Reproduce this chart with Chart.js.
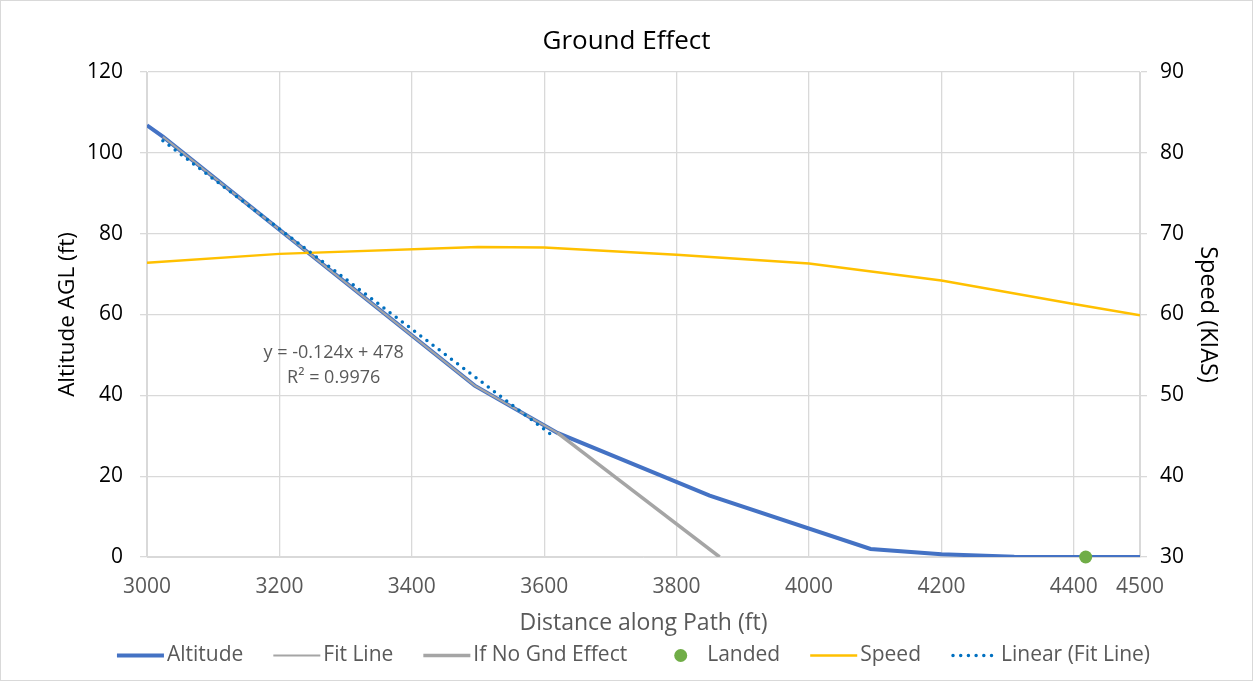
<!DOCTYPE html>
<html>
<head>
<meta charset="utf-8">
<script src="https://cdn.jsdelivr.net/npm/chart.js@4"></script>
<style>
  body { margin: 0; background: #fff; }
  #wrap { width: 1251px; height: 679px; border: 1px solid #d9d9d9; }
</style>
</head>
<body>
<div id="wrap"><canvas id="chart" width="1251" height="679"></canvas></div>
<script>
// values
const altX = [3000, 3024, 3495, 3620, 3850, 4093, 4200, 4310, 4420, 4500];
const altY = [106.8, 104.0, 42.4, 30.7, 15.2, 2.0, 0.7, 0.05, 0, 0];

const fitX = [3024, 3495, 3620];
const fitY = [104.0, 42.4, 30.7];

const noGndX = [3620, 3865];
const noGndY = [30.7, 0];

const landedX = [4418];
const landedY = [0];

const speedX = [3000, 3200, 3500, 3600, 3800, 4000, 4200, 4400, 4500];
const speedY = [66.4, 67.5, 68.35, 68.3, 67.4, 66.3, 64.2, 61.3, 59.9];

const trendX = [3024, 3612];
const trendY = [103.0, 30.1];

const xTicks = [3000, 3200, 3400, 3600, 3800, 4000, 4200, 4400, 4500];
const trendText = ["y = -0.124x + 478", "R\u00b2 = 0.9976"];

const FONT = "'Open Sans', 'Liberation Sans', sans-serif";

function pts(xs, ys) {
  return xs.map((x, i) => ({x: x, y: ys[i]}));
}

// trendline equation label
const eqLabel = {
  id: 'eqLabel',
  afterDatasetsDraw(chart) {
    const ctx = chart.ctx;
    const cx = chart.scales.x.getPixelForValue(3282);
    const cy = chart.scales.y.getPixelForValue(50.6);
    ctx.save();
    ctx.font = "18px " + FONT;
    ctx.fillStyle = "#595959";
    ctx.textAlign = "center";
    ctx.textBaseline = "middle";
    ctx.fillText(trendText[0], cx, cy);
    ctx.fillText(trendText[1], cx, cy + 25);
    ctx.restore();
  }
};

// legend row in the Excel style: sample right next to its text
const legendRow = {
  id: 'legendRow',
  afterDraw(chart) {
    const ctx = chart.ctx;
    const sw = 47, gap = 3, space = 30, y = 654.5;
    ctx.save();
    ctx.font = "21px " + FONT;
    ctx.textBaseline = "middle";
    const items = chart.data.datasets;
    const widths = items.map(ds => ctx.measureText(ds.label).width);
    const total = widths.reduce((a, w) => a + sw + gap + w, 0) + space * (items.length - 1);
    let x = chart.width / 2 + 7 - total / 2;
    items.forEach((ds, i) => {
      if (ds.showLine === false) {
        ctx.fillStyle = ds.backgroundColor;
        ctx.beginPath();
        ctx.arc(x + sw / 2, y, ds.pointRadius, 0, Math.PI * 2);
        ctx.fill();
      } else {
        ctx.strokeStyle = ds.borderColor;
        ctx.lineWidth = ds.borderWidth;
        ctx.lineCap = ds.borderCapStyle || 'butt';
        ctx.setLineDash(ds.borderDash || []);
        ctx.beginPath();
        ctx.moveTo(x + (ds.borderDash ? 2 : 0), y);
        ctx.lineTo(x + sw, y);
        ctx.stroke();
        ctx.setLineDash([]);
      }
      ctx.fillStyle = "#595959";
      ctx.fillText(ds.label, x + sw + gap, y);
      x += sw + gap + widths[i] + space;
    });
    ctx.restore();
  }
};

const ctx = document.getElementById("chart").getContext("2d");
new Chart(ctx, {
  type: 'line',
  data: {
    datasets: [
      { label: 'Altitude', data: pts(altX, altY), yAxisID: 'y', borderColor: '#4472C4', backgroundColor: '#4472C4',
        borderWidth: 4, pointRadius: 0, order: 5 },
      { label: 'Fit Line', data: pts(fitX, fitY), yAxisID: 'y', borderColor: '#A5A5A5', backgroundColor: '#A5A5A5',
        borderWidth: 2, pointRadius: 0, order: 4 },
      { label: 'If No Gnd Effect', data: pts(noGndX, noGndY), yAxisID: 'y', borderColor: '#A5A5A5', backgroundColor: '#A5A5A5',
        borderWidth: 3.5, pointRadius: 0, order: 3 },
      { label: 'Landed', data: pts(landedX, landedY), yAxisID: 'y', showLine: false, borderColor: '#70AD47', backgroundColor: '#70AD47',
        pointRadius: 6.5, pointBorderWidth: 0, clip: false, order: 0 },
      { label: 'Speed', data: pts(speedX, speedY), yAxisID: 'y2', borderColor: '#FFC000', backgroundColor: '#FFC000',
        borderWidth: 2.5, pointRadius: 0, order: 2 },
      { label: 'Linear (Fit Line)', data: pts(trendX, trendY), yAxisID: 'y', borderColor: '#0070C0', backgroundColor: '#0070C0',
        borderWidth: 3.5, borderDash: [0, 7.7], borderCapStyle: 'round', pointRadius: 0, order: 1 }
    ]
  },
  options: {
    responsive: false,
    animation: false,
    layout: { padding: { bottom: 40 } },
    plugins: {
      title: { display: true, text: 'Ground Effect', color: '#000', font: { family: FONT, size: 26, weight: 'normal' },
        padding: { top: 25.4, bottom: 14.4 } },
      legend: { display: false },
      tooltip: { enabled: false }
    },
    scales: {
      x: {
        type: 'linear', min: 3000, max: 4500,
        afterBuildTicks(scale) { scale.ticks = xTicks.map(v => ({value: v})); },
        afterFit(scale) { scale.height = 83; },
        grid: { color: '#d9d9d9', lineWidth: 1.3, drawTicks: false },
        border: { color: '#d9d9d9' },
        ticks: { color: '#595959', font: { family: FONT, size: 21 }, padding: 17.4, maxRotation: 0,
          callback: v => String(v) },
        title: { display: true, text: 'Distance along Path (ft)', color: '#595959', font: { family: FONT, size: 23, lineHeight: 1 },
          padding: { top: 0, bottom: 5 } }
      },
      y: {
        position: 'left', min: 0, max: 120,
        afterFit(scale) { scale.width = 146; },
        grid: { color: '#d9d9d9', lineWidth: 1.3, drawTicks: true, tickLength: 7 },
        border: { color: '#d9d9d9' },
        ticks: { stepSize: 20, color: '#000', font: { family: FONT, size: 21 }, padding: 17 },
        title: { display: true, text: 'Altitude AGL (ft)', color: '#000', font: { family: FONT, size: 22.5 },
          padding: { top: 53.5, bottom: 0 } }
      },
      y2: {
        position: 'right', min: 30, max: 90,
        afterFit(scale) { scale.width = 112; },
        grid: { drawOnChartArea: false, color: '#d9d9d9', lineWidth: 1.3, drawTicks: true, tickLength: 7 },
        border: { color: '#d9d9d9' },
        ticks: { stepSize: 10, color: '#000', font: { family: FONT, size: 21 }, padding: 13 },
        title: { display: true, text: 'Speed (KIAS)', color: '#000', font: { family: FONT, size: 23.5 },
          padding: { top: 29.9, bottom: 0 } }
      }
    }
  },
  plugins: [eqLabel, legendRow]
});
</script>
</body>
</html>
